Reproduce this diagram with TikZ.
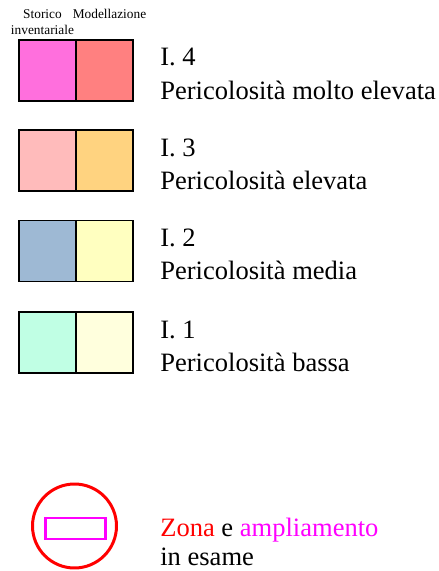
\documentclass[tikz,border=0pt]{standalone}
\usepackage{fontspec}
\setmainfont{Liberation Serif}
\usetikzlibrary{positioning}

\definecolor{hazpink}{HTML}{FF6FDD}
\definecolor{hazsalmon}{HTML}{FF8080}
\definecolor{hazrose}{HTML}{FFBBBB}
\definecolor{hazorange}{HTML}{FFD380}
\definecolor{hazblue}{HTML}{9EB9D4}
\definecolor{hazyellow}{HTML}{FFFFC0}
\definecolor{hazmint}{HTML}{C0FFE4}
\definecolor{hazcream}{HTML}{FFFFDD}
\definecolor{zonered}{RGB}{255,0,0}
\definecolor{zonemagenta}{RGB}{255,0,255}

\begin{document}
\begin{tikzpicture}[x=0.02cm, y=-0.02cm,
                legend box/.style={draw, line width=1.1pt, minimum width=1.14cm, minimum height=1.22cm, inner sep=0pt, outer sep=0pt},
                legend text/.style={anchor=base west, inner sep=0pt, font=\fontsize{15.1pt}{18.8pt}\selectfont},
                head text/.style={inner sep=0pt, align=center, font=\fontsize{7.6pt}{9.1pt}\selectfont}]

                \useasboundingbox (0,0) rectangle (439,571);

                % Column headings
                \node[head text, anchor=base] (histhead) at (42.5,34.5) {Storico\\inventariale};
                \node[head text, anchor=base] (modhead) at (109.5,19) {Modellazione};

                % Level 4
                \node[legend box, fill=hazpink] (hist4) at (47.5,70.5) {};
                \node[legend box, fill=hazsalmon, right=0pt of hist4] (mod4) {};
                \node[legend text] (lvl4) at (160,66) {I. 4};
                \node[legend text] (desc4) at (160,99) {Pericolosità molto elevata};

                % Level 3
                \node[legend box, fill=hazrose] (hist3) at (47.5,160.5) {};
                \node[legend box, fill=hazorange, right=0pt of hist3] (mod3) {};
                \node[legend text] (lvl3) at (160,156) {I. 3};
                \node[legend text] (desc3) at (160,189) {Pericolosità elevata};

                % Level 2
                \node[legend box, fill=hazblue] (hist2) at (47.5,251) {};
                \node[legend box, fill=hazyellow, right=0pt of hist2] (mod2) {};
                \node[legend text] (lvl2) at (160,246) {I. 2};
                \node[legend text] (desc2) at (160,279) {Pericolosità media};

                % Level 1
                \node[legend box, fill=hazmint] (hist1) at (47.5,342.5) {};
                \node[legend box, fill=hazcream, right=0pt of hist1] (mod1) {};
                \node[legend text] (lvl1) at (160,338) {I. 1};
                \node[legend text] (desc1) at (160,371) {Pericolosità bassa};

                % Study area and extension
                \node[draw=zonered, line width=1.7pt, circle, minimum size=1.68cm, inner sep=0pt] (zone) at (74.5,526) {};
                \node[draw=zonemagenta, line width=1.4pt, minimum width=1.2cm, minimum height=0.41cm, inner sep=0pt] (ext) at (75.5,528.5) {};
                \node[legend text] (zonetext) at (160,536) {\textcolor{zonered}{Zona} e \textcolor{zonemagenta}{ampliamento}};
                \node[legend text] (zonetext2) at (160,565) {in esame};
            \end{tikzpicture}
\end{document}
